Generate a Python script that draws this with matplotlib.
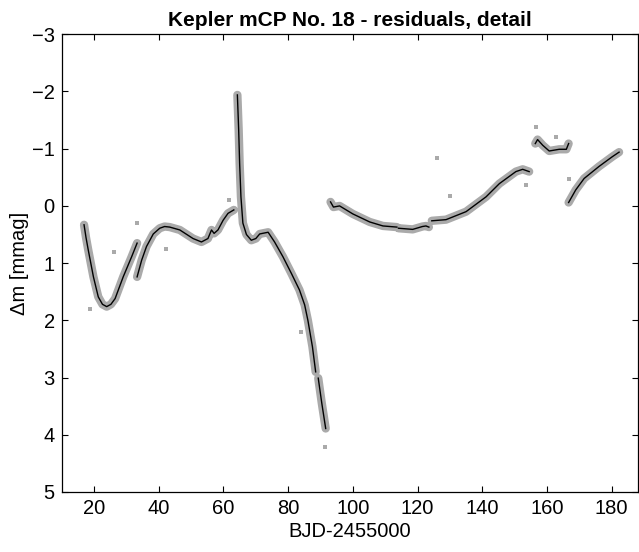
import numpy as np
import matplotlib.pyplot as plt

plt.rcParams['font.family'] = ['Liberation Sans', 'DejaVu Sans']

# fitted curve, NaN marks a gap in the data
nan = np.nan
days = [
    16.9, 17.5, 18.2, 19.8, 21.3, 22.6, 23.9, 25.2, 26.5, 29.0, 31.6, 33.3, nan,
    33.3, 34.7, 36.2, 38.3, 40.3, 41.8, 43.4, 46.5, 50.6, 53.2, 55.2, 56.3, 57.1,
    58.3, 59.9, 61.4, 63.2, nan,
    64.3, 64.7, 65.0, 65.4, 66.0, 67.1, 68.6, 70.0, 71.2, 73.8, 75.8, 78.4, 81.0,
    83.5, 85.1, 86.1, 87.5, 88.5, nan,
    89.3, 90.4, 91.6, nan,
    93.1, 94.0, 95.9, 100.0, 105.2, 109.3, 113.6, nan,
    114.1, 118.5, 121.5, 122.6, 123.5, nan,
    124.4, 128.8, 135.0, 141.2, 145.3, 150.4, 152.5, 154.5, nan,
    156.4, 157.1, 158.7, 160.7, 163.8, 166.0, 166.7, nan,
    166.7, 168.9, 171.5, 176.1, 180.2, 182.3,
]
dmag = [
    0.33, 0.55, 0.77, 1.24, 1.59, 1.72, 1.76, 1.72, 1.62, 1.24, 0.89, 0.65, nan,
    1.24, 0.95, 0.71, 0.49, 0.39, 0.36, 0.37, 0.42, 0.57, 0.63, 0.57, 0.42, 0.48,
    0.42, 0.25, 0.13, 0.07, nan,
    -1.94, -1.33, -0.74, -0.16, 0.30, 0.50, 0.60, 0.57, 0.49, 0.46, 0.63, 0.89, 1.18,
    1.47, 1.73, 2.00, 2.46, 2.90, nan,
    3.01, 3.45, 3.89, nan,
    -0.07, 0.02, 0.00, 0.14, 0.28, 0.35, 0.37, nan,
    0.39, 0.41, 0.36, 0.35, 0.37, nan,
    0.26, 0.24, 0.10, -0.16, -0.39, -0.60, -0.64, -0.60, nan,
    -1.09, -1.16, -1.06, -0.96, -0.99, -0.99, -1.09, nan,
    -0.06, -0.28, -0.48, -0.69, -0.86, -0.94,
]

# stray single measurements
out_days = [18.7, 26.2, 33.3, 42.2, 61.6, 83.9, 91.4, 126.0, 129.9, 153.5,
            156.6, 162.8, 166.7]
out_dmag = [1.80, 0.81, 0.29, 0.75, -0.10, 2.20, 4.21, -0.84, -0.18, -0.37,
            -1.38, -1.21, -0.47]

fig = plt.figure(figsize=(6.39, 5.52), dpi=100)
ax = fig.add_axes([0.0966, 0.1087, 0.9026, 0.8292])

# measurement scatter shown as a gray band around the fit
ax.plot(days, dmag, color='#aaaaaa', lw=6, solid_capstyle='round',
        solid_joinstyle='round', zorder=1)
ax.plot(out_days, out_dmag, 's', color='#aaaaaa', ms=2.5, mew=0, zorder=1)
ax.plot(days, dmag, color='black', lw=1.0, zorder=2)

ax.set_xlim(10, 188.3)
ax.set_ylim(5, -3)
ax.set_xticks(range(20, 181, 20))
ax.set_yticks(range(-3, 6))
ax.tick_params(direction='in', top=True, right=True, length=4, width=0.8,
               labelsize=14.5, pad=5)
for sp in ax.spines.values():
    sp.set_linewidth(0.9)

ax.set_xlabel('BJD-2455000', fontsize=14.5, labelpad=3)
ax.set_ylabel('Δm [mmag]', fontsize=14.5, labelpad=2)
ax.set_title('Kepler mCP No. 18 - residuals, detail', fontsize=15,
             fontweight='bold', pad=6)

fig.savefig('out.png', dpi=100)
